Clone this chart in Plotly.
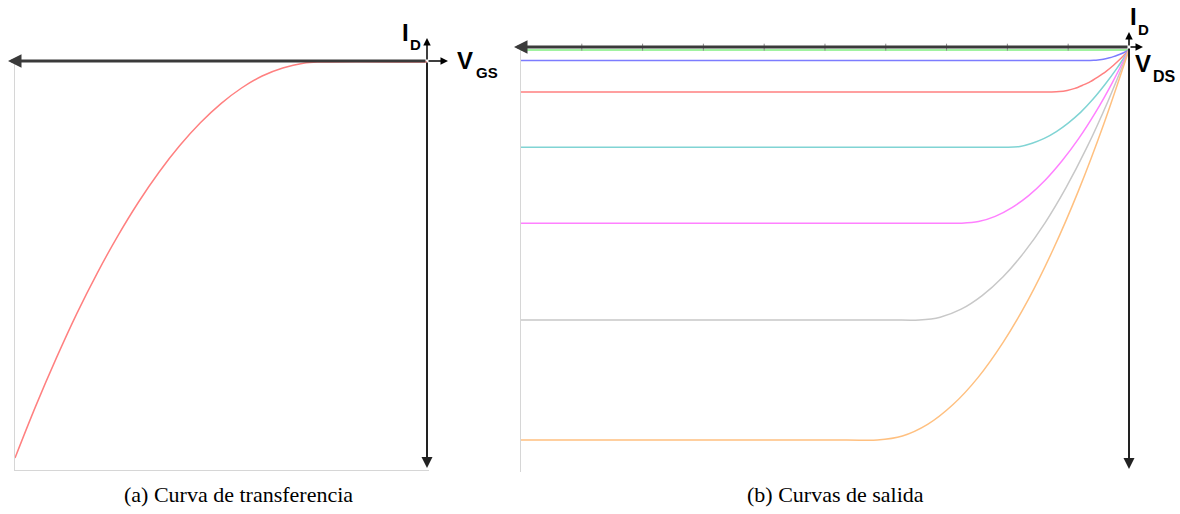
import plotly.graph_objects as go

W, H = 1180, 514

# ---------------- data ----------------
# (a) transfer curve  (V_GS, I_D) in arbitrary units
vgs = [-10, -9.5, -9, -8.5, -8, -7.5, -7, -6.5, -6, -5.5, -5, -4.5, -4, -3.5, -3, -2.6, 0]
id_transfer = [-9.9, -8.61, -7.41, -6.29, -5.27, -4.34, -3.5, -2.75, -2.09, -1.52,
               -1.04, -0.65, -0.35, -0.15, -0.03, 0, 0]

# (b) output curves (V_DS, I_D) for several V_GS
vds_green = [-10, 0]
id_green = [0, 0]
vds_blue = [-10, -1.14, -0.64, -0.576, -0.512, -0.448, -0.384, -0.32, -0.256, -0.192, -0.128, -0.064, 0]
id_blue = [-0.26, -0.26, -0.26, -0.257, -0.25, -0.237, -0.218, -0.195, -0.166, -0.133, -0.094, -0.049, 0]
vds_red = [-10, -1.77, -1.27, -1.143, -1.016, -0.889, -0.762, -0.635, -0.508, -0.381, -0.254, -0.127, 0]
id_red = [-1.05, -1.05, -1.05, -1.04, -1.01, -0.96, -0.88, -0.79, -0.67, -0.54, -0.38, -0.20, 0]
vds_cyan = [-10, -2.49, -1.99, -1.791, -1.592, -1.393, -1.194, -0.995, -0.796, -0.597, -0.398, -0.199, 0]
id_cyan = [-2.43, -2.43, -2.43, -2.41, -2.33, -2.21, -2.04, -1.82, -1.56, -1.24, -0.87, -0.46, 0]
vds_magenta = [-10, -3.25, -2.75, -2.475, -2.2, -1.925, -1.65, -1.375, -1.1, -0.825, -0.55, -0.275, 0]
id_magenta = [-4.33, -4.33, -4.33, -4.29, -4.16, -3.94, -3.64, -3.25, -2.77, -2.21, -1.56, -0.82, 0]
vds_gray = [-10, -3.95, -3.45, -3.105, -2.76, -2.415, -2.07, -1.725, -1.38, -1.035, -0.69, -0.345, 0]
id_gray = [-6.75, -6.75, -6.75, -6.68, -6.48, -6.14, -5.67, -5.06, -4.32, -3.44, -2.43, -1.28, 0]
vds_orange = [-10, -4.64, -4.14, -3.726, -3.312, -2.898, -2.484, -2.07, -1.656, -1.242, -0.828, -0.414, 0]
id_orange = [-9.75, -9.75, -9.75, -9.65, -9.36, -8.87, -8.19, -7.31, -6.24, -4.97, -3.51, -1.85, 0]

top_ticks = [-9, -8, -7, -6, -5, -4, -3, -2, -1]

captions = ["(a) Curva de transferencia", "(b) Curvas de salida"]

# ---------------- helpers ----------------
def fx(px):
    return px / W

def fy(py):
    return 1 - py / H

fig = go.Figure()

fig.add_trace(go.Scatter(x=vgs, y=id_transfer, mode="lines", line=dict(color="#ff8080", width=1.5, shape="spline"),
                         xaxis="x", yaxis="y", showlegend=False, hoverinfo="skip"))

curves = [
    (vds_green, id_green, "#80ee80"),
    (vds_blue, id_blue, "#7c7cff"),
    (vds_red, id_red, "#ff8080"),
    (vds_cyan, id_cyan, "#80d4d4"),
    (vds_magenta, id_magenta, "#ff80ff"),
    (vds_gray, id_gray, "#c8c8c8"),
    (vds_orange, id_orange, "#ffc080"),
]
for xs, ys, c in curves:
    fig.add_trace(go.Scatter(x=xs, y=ys, mode="lines", line=dict(color=c, width=1.5, shape="spline", smoothing=0.8),
                             xaxis="x2", yaxis="y2", showlegend=False, hoverinfo="skip"))

fig.add_trace(go.Scatter(x=top_ticks, y=[0.07] * len(top_ticks), mode="markers",
                         marker=dict(symbol="line-ns", size=5, line=dict(color="#8a8a8a", width=1)),
                         xaxis="x2", yaxis="y2", showlegend=False, hoverinfo="skip", cliponaxis=False))

hidden = dict(showgrid=False, zeroline=False, showticklabels=False, ticks="")
fig.update_layout(
    width=W, height=H, margin=dict(l=0, r=0, t=0, b=0),
    paper_bgcolor="white", plot_bgcolor="white",
    xaxis=dict(domain=[fx(15), fx(429)], range=[-10, 0.05], showline=True, linecolor="#d6d6d6", linewidth=1, **hidden),
    yaxis=dict(domain=[fy(470), fy(58)], range=[-10.2, 0.1], showline=True, linecolor="#d6d6d6", linewidth=1, **hidden),
    xaxis2=dict(domain=[fx(521), fx(1132)], range=[-10, 0.05], showline=False, anchor="y2", **hidden),
    yaxis2=dict(domain=[fy(472), fy(46)], range=[-10.55, 0.1], showline=True, linecolor="#d6d6d6", linewidth=1,
                anchor="x2", **hidden),
)

ann = []

def arrow(tip, tail, width, color="black", size=1.0):
    ann.append(dict(x=fx(tip[0]), y=fy(tip[1]), xref="paper", yref="paper",
                    ax=tail[0] - tip[0], ay=tail[1] - tip[1], axref="pixel", ayref="pixel",
                    text="", showarrow=True, arrowhead=2, arrowwidth=width, arrowsize=size,
                    arrowcolor=color, standoff=0, startstandoff=0))

# left panel axes
arrow((8, 61), (427, 61), 3, "#3a3a3a", 0.9)
arrow((448, 61), (427, 61), 1.5)
arrow((427, 38), (427, 61), 1.5)
arrow((427, 468), (427, 61), 2, "#222", 1.1)
# right panel axes
arrow((514, 47), (1129, 47), 3, "#3a3a3a", 0.9)
arrow((1143, 47), (1129, 47), 1.5)
arrow((1129, 32), (1129, 47), 1.5)
arrow((1129, 469), (1129, 47), 2, "#222", 1.1)

def label(text, x, y, size, anchor="left"):
    ann.append(dict(x=fx(x), y=fy(y), xref="paper", yref="paper", text="<b>%s</b>" % text, showarrow=False,
                    xanchor=anchor, yanchor="middle",
                    font=dict(family="Liberation Sans, Arial", size=size, color="black")))

label("I", 400, 32, 24)
label("D", 408, 44, 15)
label("V", 455, 60, 24)
label("GS", 474, 73, 15)

label("I", 1128, 17, 24)
label("D", 1136, 29, 15)
label("V", 1133, 63, 24)
label("DS", 1151, 76, 16)

for txt, cx in zip(captions, [238, 835]):
    ann.append(dict(x=fx(cx), y=fy(494), xref="paper", yref="paper", text=txt, showarrow=False,
                    xanchor="center", yanchor="middle",
                    font=dict(family="Liberation Serif, DejaVu Serif", size=22, color="black")))

fig.update_layout(annotations=ann)
fig.write_html("out.html", config={"displayModeBar": False, "staticPlot": True},
               post_script="document.body.style.margin='0';document.body.style.overflow='hidden';")
